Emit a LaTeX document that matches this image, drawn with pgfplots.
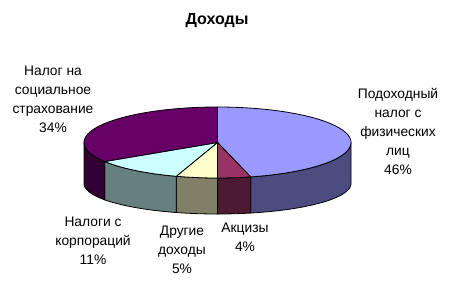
\documentclass[border=0pt]{standalone}
\usepackage{fontspec}
\setmainfont{Liberation Sans}
\usepackage{pgfplots}
\pgfplotsset{compat=1.18}
\usepgfplotslibrary{fillbetween}
\definecolor{sA}{HTML}{9999FF}\definecolor{wA}{HTML}{4C4C80}
\definecolor{sB}{HTML}{993366}\definecolor{wB}{HTML}{4C1A33}
\definecolor{sC}{HTML}{FFFFCC}\definecolor{wC}{HTML}{808066}
\definecolor{sD}{HTML}{CCFFFF}\definecolor{wD}{HTML}{668080}
\definecolor{sE}{HTML}{660066}\definecolor{wE}{HTML}{330033}
% data (percent)
\def\pA{46}\def\pB{4}\def\pC{5}\def\pD{11}\def\pE{34}
% geometry (1 unit = 1 px)
\def\cx{217.5}\def\cy{141.5}\def\ra{133.5}\def\rb{35.5}
\def\by{100.5}\def\rbb{30.5}
\pgfmathsetmacro\tA{90}
\pgfmathsetmacro\tB{\tA-3.6*\pA}
\pgfmathsetmacro\tC{\tB-3.6*\pB}
\pgfmathsetmacro\tD{\tC-3.6*\pC}
\pgfmathsetmacro\tE{\tD-3.6*\pD}
\pgfmathsetmacro\tF{\tE-3.6*\pE}
\newcommand\wall[4]{%
  \addplot[draw=none,name path=top#4,domain=#1:#2,samples=50] ({\cx+\ra*cos(x)},{\cy+\rb*sin(x)});
  \addplot[draw=none,name path=bot#4,domain=#1:#2,samples=50] ({\cx+\ra*cos(x)},{\by+\rbb*sin(x)});
  \addplot[fill=#3,draw=black,line width=0.8pt] fill between[of=top#4 and bot#4];
}
\newcommand\sector[3]{%
  \addplot[fill=#3,draw=black,line width=0.8pt,domain=#1:#2,samples=80] ({\cx+\ra*cos(x)},{\cy+\rb*sin(x)}) -- (axis cs:\cx,\cy) -- cycle;
}
\begin{document}
\begin{tikzpicture}
\begin{axis}[hide axis, scale only axis, width=460bp, height=284bp,
  xmin=0, xmax=460, ymin=0, ymax=284, clip=false]
\wall{\tB}{0}{wA}{a}
\wall{\tC}{\tB}{wB}{b}
\wall{\tD}{\tC}{wC}{c}
\wall{\tE}{\tD}{wD}{d}
\wall{-180}{\tE}{wE}{e}
\sector{\tB}{\tA}{sA}
\sector{\tC}{\tB}{sB}
\sector{\tD}{\tC}{sC}
\sector{\tE}{\tD}{sD}
\sector{\tF}{\tE}{sE}
\node[font=\fontsize{16bp}{19bp}\selectfont\bfseries] at (axis cs:217,263) {Доходы};
\begin{scope}[every node/.style={align=center,font=\fontsize{13.8bp}{19bp}\selectfont}]
\node at (axis cs:53,185) {Налог на\\социальное\\страхование\\34\%};
\node at (axis cs:398,153) {Подоходный\\налог с\\физических\\лиц\\46\%};
\node at (axis cs:93,43) {Налоги с\\корпораций\\11\%};
\node at (axis cs:182,34.5) {Другие\\доходы\\5\%};
\node at (axis cs:245,46.5) {Акцизы\\4\%};
\end{scope}
\end{axis}
\pgfresetboundingbox
\path (current axis.south west) rectangle (current axis.north east);
\end{tikzpicture}
\end{document}
